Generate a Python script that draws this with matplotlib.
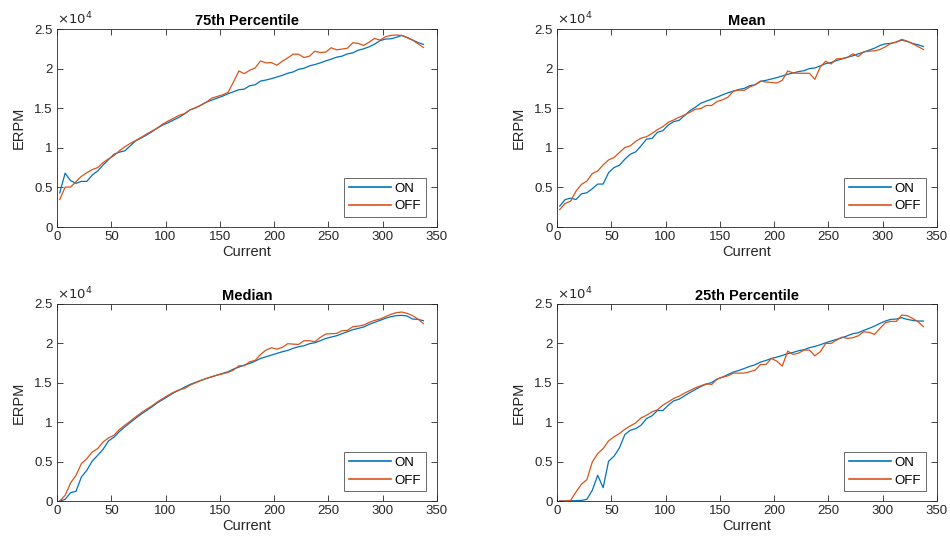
import numpy as np
import matplotlib
matplotlib.use("Agg")
import matplotlib.pyplot as plt
from matplotlib.ticker import FuncFormatter

plt.rcParams['font.family'] = ['Liberation Sans', 'DejaVu Sans']

# Current bins (A)
current = np.arange(2.5, 340, 5.0)

p75_on = [4300, 6800, 5850, 5510, 5760, 5760, 6570, 7080, 7840, 8520,
          9190, 9450, 9620, 10250, 10890, 11230, 11610, 12030, 12500, 12880,
          13180, 13520, 13860, 14280, 14790, 15040, 15380, 15760, 16020, 16270,
          16520, 16820, 17080, 17330, 17410, 17840, 17960, 18430, 18560, 18730,
          18940, 19150, 19410, 19580, 19910, 20040, 20340, 20510, 20720, 20970,
          21190, 21440, 21570, 21860, 21990, 22330, 22500, 22750, 23090, 23520,
          23730, 23770, 23940, 24190, 23900, 23600, 23300, 23050]
p75_off = [3470, 5040, 5040, 5720, 6400, 6860, 7250, 7500, 8140, 8600,
           9020, 9620, 10130, 10550, 10930, 11310, 11740, 12120, 12500, 13010,
           13390, 13730, 14110, 14320, 14790, 15040, 15380, 15760, 16270, 16480,
           16690, 16990, 18300, 19700, 19360, 19790, 20080, 20970, 20720, 20760,
           20420, 20930, 21350, 21820, 21820, 21400, 21570, 22200, 22030, 22080,
           22630, 22370, 22460, 22580, 23260, 23180, 22920, 23350, 23810, 23600,
           24020, 24190, 24240, 24190, 23940, 23600, 23130, 22670]

mean_on = [2630, 3470, 3640, 3470, 4190, 4320, 4830, 5420, 5420, 6860,
           7500, 7800, 8560, 9190, 9490, 10250, 11100, 11190, 11950, 12160,
           12880, 13300, 13470, 14070, 14700, 15130, 15630, 15890, 16140, 16400,
           16690, 16950, 17160, 17370, 17500, 17840, 17960, 18390, 18520, 18690,
           18860, 19070, 19280, 19450, 19620, 19740, 20000, 20080, 20340, 20630,
           20760, 21020, 21230, 21440, 21610, 21860, 22080, 22330, 22580, 22920,
           23130, 23180, 23350, 23600, 23430, 23180, 23010, 22790]
mean_off = [2200, 2970, 3260, 4530, 5380, 5800, 6740, 7080, 7840, 8470,
            8770, 9410, 10040, 10250, 10810, 11230, 11400, 11820, 12290, 12670,
            13220, 13520, 13860, 14150, 14490, 14870, 14960, 15340, 15340, 15850,
            16060, 16400, 17160, 17290, 17250, 17670, 17960, 18430, 18300, 18260,
            18180, 18520, 19700, 19450, 19410, 19410, 19410, 18640, 20210, 20930,
            20590, 21230, 21270, 21400, 21860, 21520, 22120, 22200, 22250, 22410,
            22750, 23180, 23350, 23690, 23470, 23130, 22790, 22410]

median_on = [0, 210, 1060, 1230, 3050, 3900, 5080, 5800, 6570, 7630,
             8100, 8820, 9410, 9960, 10510, 11020, 11480, 11950, 12460, 12880,
             13300, 13730, 14070, 14450, 14790, 15040, 15300, 15550, 15760, 15980,
             16190, 16400, 16740, 16990, 17250, 17460, 17750, 18090, 18300, 18520,
             18730, 18940, 19110, 19370, 19580, 19700, 19960, 20080, 20340, 20630,
             20800, 20970, 21230, 21480, 21740, 21910, 22080, 22410, 22670, 22920,
             23180, 23390, 23520, 23560, 23470, 23090, 23050, 22880]
median_off = [0, 720, 2290, 3260, 4750, 5380, 6230, 6650, 7500, 8010,
              8350, 9070, 9620, 10130, 10680, 11190, 11650, 12080, 12580, 13010,
              13430, 13810, 14110, 14280, 14700, 15000, 15300, 15550, 15760, 15980,
              16140, 16310, 16610, 17160, 17160, 17670, 17840, 18600, 19150, 19450,
              19280, 19490, 19960, 19910, 19870, 20340, 20340, 20210, 20760, 21190,
              21230, 21270, 21610, 21650, 22120, 22200, 22330, 22670, 22920, 23090,
              23390, 23690, 23900, 23980, 23810, 23520, 23090, 22500]

p25_on = [0, 0, 40, 40, 80, 210, 1360, 3260, 1690, 5040,
          5680, 6740, 8430, 8980, 9190, 9620, 10470, 10810, 11480, 11480,
          12160, 12710, 12920, 13350, 13770, 14150, 14530, 14830, 15040, 15470,
          15720, 16060, 16360, 16570, 16820, 17080, 17290, 17630, 17840, 18090,
          18260, 18470, 18690, 18860, 19070, 19200, 19450, 19620, 19830, 20080,
          20300, 20510, 20720, 20970, 21230, 21350, 21650, 21910, 22200, 22540,
          22840, 23050, 23090, 23260, 23050, 22920, 22840, 22840]
p25_off = [0, 0, 80, 1140, 2120, 2710, 4960, 6020, 6650, 7630,
           8140, 8560, 9110, 9530, 9910, 10550, 10890, 11310, 11570, 12160,
           12580, 13010, 13300, 13690, 14030, 14370, 14620, 14870, 14790, 15470,
           15720, 15890, 16230, 16230, 16230, 16400, 16610, 17330, 17330, 18090,
           17750, 17120, 19020, 18600, 18770, 19150, 19150, 18430, 18940, 20000,
           20000, 20420, 20800, 20630, 20720, 20970, 21480, 21400, 21140, 21910,
           22630, 22790, 22790, 23600, 23520, 23180, 22750, 22120]

panels = [
    ("75th Percentile", p75_on, p75_off),
    ("Mean", mean_on, mean_off),
    ("Median", median_on, median_off),
    ("25th Percentile", p25_on, p25_off),
]

xticks = [0, 50, 100, 150, 200, 250, 300, 350]
yticks = [0, 5000, 10000, 15000, 20000, 25000]

BLUE = "#0072BD"
ORANGE = "#D95319"
AXC = "#262626"

fig = plt.figure(figsize=(9.5, 5.48), dpi=100)
W, H = 950, 548
boxes = [(57, 29, 380, 198), (557, 29, 380, 198),
         (57, 304, 380, 197), (557, 304, 380, 197)]

for (title, on, off), (px, py, pw, ph) in zip(panels, boxes):
    ax = fig.add_axes([px / W, 1 - (py + ph) / H, pw / W, ph / H])
    ax.plot(current, on, color=BLUE, lw=0.9, label="ON")
    ax.plot(current, off, color=ORANGE, lw=0.9, label="OFF")
    ax.set_xlim(0, 350)
    ax.set_ylim(0, 25000)
    ax.set_xticks(xticks)
    ax.set_yticks(yticks)
    ax.yaxis.set_major_formatter(FuncFormatter(lambda v, p: f"{v/1e4:g}"))
    ax.tick_params(direction="in", top=True, right=True, length=4,
                   width=0.6, colors=AXC, labelsize=9.5, pad=3)
    for s in ax.spines.values():
        s.set_color(AXC)
        s.set_linewidth(0.6)
    ax.set_title(title, fontsize=10.5, fontweight="bold", color="black", pad=3)
    ax.set_xlabel("Current", fontsize=10.5, color=AXC, labelpad=1)
    ax.set_ylabel("ERPM", fontsize=10.5, color=AXC, labelpad=6)
    ax.text(0.0, 1.01, r"$\times10^{4}$", transform=ax.transAxes,
            fontsize=9.5, color=AXC, ha="left", va="bottom")
    leg = ax.legend(loc="lower right", fontsize=9.5, frameon=True,
                    fancybox=False, handlelength=3.2, borderpad=0.35,
                    labelspacing=0.42, handletextpad=0.3,
                    borderaxespad=0.0, bbox_to_anchor=(0.971, 0.05))
    leg.get_frame().set_edgecolor(AXC)
    leg.get_frame().set_linewidth(0.6)
    for ln in leg.get_lines():
        ln.set_linewidth(1.2)

fig.savefig("out.png", dpi=100)
